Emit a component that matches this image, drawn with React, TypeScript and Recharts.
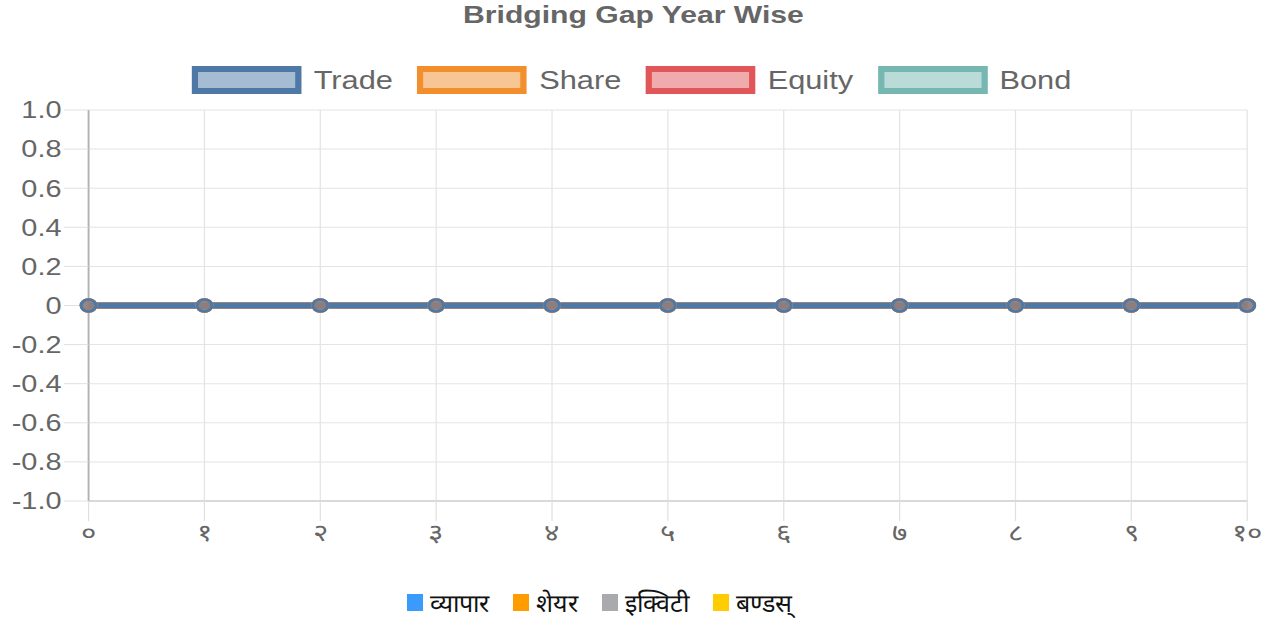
import React from 'react';
import { LineChart, Line, XAxis, YAxis, CartesianGrid } from 'recharts';

const xLabels = ['०', '१', '२', '३', '४', '५', '६', '७', '८', '९', '१०'];
const tradeValues = [0, 0, 0, 0, 0, 0, 0, 0, 0, 0, 0];
const shareValues = [0, 0, 0, 0, 0, 0, 0, 0, 0, 0, 0];
const equityValues = [0, 0, 0, 0, 0, 0, 0, 0, 0, 0, 0];
const bondValues = [0, 0, 0, 0, 0, 0, 0, 0, 0, 0, 0];
const yTicks = [-1.0, -0.8, -0.6, -0.4, -0.2, 0, 0.2, 0.4, 0.6, 0.8, 1.0];

const seriesNames = ['Trade', 'Share', 'Equity', 'Bond'];
const seriesKeys = ['trade', 'share', 'equity', 'bond'];
const seriesBorder = ['#4e79a7', '#f28e2b', '#e15759', '#76b7b2'];
const seriesFill = [
  'rgba(78,121,167,0.5)',
  'rgba(242,142,43,0.5)',
  'rgba(225,87,89,0.5)',
  'rgba(118,183,178,0.5)',
];

const bottomLabels = ['व्यापार', 'शेयर', 'इक्विटी', 'बण्डस्'];
const bottomColors = ['#3a9bfc', '#ff9c00', '#a8aaae', '#ffcc00'];

const title = 'Bridging Gap Year Wise';

const data = xLabels.map((label, i) => ({
  label,
  trade: tradeValues[i],
  share: shareValues[i],
  equity: equityValues[i],
  bond: bondValues[i],
}));

const K = 1.23;
const W = 1046;
const H = 620;
const FONT = '"Liberation Sans", Arial, sans-serif';

const fmtY = (v: number) => (v === 0 ? '0' : v.toFixed(1));

export default function App() {
  const order = [3, 2, 1, 0];
  return (
    <div style={{ position: 'absolute', left: 0, top: 0, width: 1286, height: 620, background: '#fff', overflow: 'hidden' }}>
      <div
        style={{
          position: 'absolute',
          left: 0,
          top: 0,
          width: W,
          height: H,
          transform: `scaleX(${K})`,
          transformOrigin: '0 0',
          fontFamily: FONT,
        }}
      >
        <div
          style={{
            position: 'absolute',
            left: 0,
            top: 0,
            width: 1030,
            textAlign: 'center',
            fontSize: 24.5,
            fontWeight: 'bold',
            color: '#666',
            lineHeight: '30px',
          }}
        >
          {title}
        </div>
        <div
          style={{
            position: 'absolute',
            left: 156,
            top: 66,
            display: 'flex',
            alignItems: 'center',
            gap: 20,
            height: 28,
          }}
        >
          {seriesNames.map((n, i) => (
            <div key={n} style={{ display: 'flex', alignItems: 'center' }}>
              <div
                style={{
                  boxSizing: 'border-box',
                  width: 89,
                  height: 28,
                  border: `5px solid ${seriesBorder[i]}`,
                  borderTopWidth: 6,
                  borderBottomWidth: 6,
                  background: seriesFill[i],
                }}
              />
              <span style={{ marginLeft: 10, fontSize: 25, color: '#666', lineHeight: '28px' }}>{n}</span>
            </div>
          ))}
        </div>
        <LineChart width={W} height={H} data={data} margin={{ top: 110, right: 32, bottom: 0, left: 0 }}>
          <CartesianGrid stroke="#e4e4e4" strokeWidth={1} />
          <XAxis
            dataKey="label"
            height={119}
            tickSize={20}
            tickMargin={3}
            interval={0}
            axisLine={{ stroke: '#d0d0d0', strokeWidth: 1.5 }}
            tickLine={{ stroke: '#e0e0e0' }}
            tick={{ fill: '#666', fontSize: 24, fontFamily: FONT }}
          />
          <YAxis
            type="number"
            domain={[-1, 1]}
            ticks={yTicks}
            interval={0}
            width={72}
            tickSize={20}
            tickMargin={2}
            tickFormatter={fmtY}
            axisLine={{ stroke: '#b0b0b0', strokeWidth: 1.5 }}
            tickLine={{ stroke: '#e0e0e0' }}
            tick={{ fill: '#666', fontSize: 23.5, fontFamily: FONT }}
          />
          {order.map((i) => (
            <Line
              key={seriesKeys[i]}
              type="linear"
              dataKey={seriesKeys[i]}
              name={seriesNames[i]}
              stroke={seriesBorder[i]}
              strokeWidth={6}
              dot={{ r: 6, fill: seriesFill[i], stroke: seriesBorder[i], strokeWidth: 2.5 }}
              isAnimationActive={false}
            />
          ))}
        </LineChart>
      </div>
      <div
        style={{
          position: 'absolute',
          left: 407,
          top: 585,
          display: 'flex',
          alignItems: 'center',
          gap: 24,
          fontSize: 25,
          color: '#111',
          fontFamily: 'sans-serif',
        }}
      >
        {bottomLabels.map((l, i) => (
          <div key={l} style={{ display: 'flex', alignItems: 'center' }}>
            <span style={{ display: 'inline-block', width: 16, height: 17, background: bottomColors[i], marginRight: 7 }} />
            <span>{l}</span>
          </div>
        ))}
      </div>
    </div>
  );
}
